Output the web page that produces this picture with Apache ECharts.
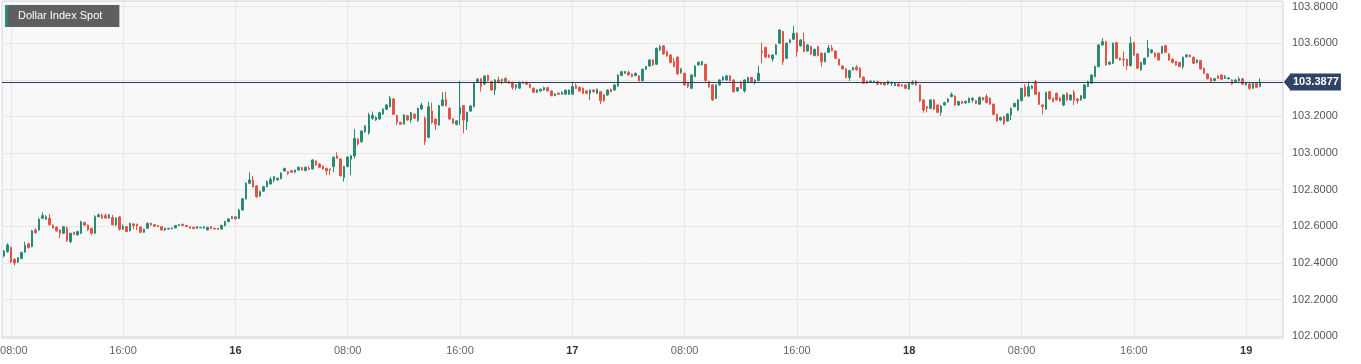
<!DOCTYPE html>
<html>
<head>
<meta charset="utf-8">
<script src="https://cdn.jsdelivr.net/npm/echarts@6/dist/echarts.min.js"></script>
<style>html,body{margin:0;padding:0;background:#fff;}#chart{width:1361px;height:364px;}</style>
</head>
<body>
<div id="chart"></div>
<script>
// ---- data: 15-minute candles, [open, close, low, high] ----
const seriesName = 'Dollar Index Spot';
const day15 = [
[102.438,102.465,102.43,102.47],[102.462,102.498,102.455,102.507],[102.484,102.405,102.40,102.49],[102.42,102.40,102.385,102.425],
[102.405,102.428,102.40,102.43],[102.424,102.458,102.42,102.46],[102.46,102.495,102.455,102.516],[102.504,102.484,102.478,102.51],
[102.489,102.575,102.485,102.58],[102.58,102.566,102.558,102.589],[102.58,102.638,102.575,102.645],[102.643,102.658,102.64,102.676],
[102.638,102.652,102.635,102.66],[102.644,102.608,102.605,102.667],[102.606,102.59,102.587,102.61],[102.595,102.575,102.57,102.6],
[102.58,102.562,102.535,102.583],[102.562,102.598,102.558,102.6],[102.59,102.522,102.515,102.6],[102.516,102.562,102.507,102.565],
[102.567,102.556,102.553,102.57],[102.553,102.571,102.55,102.575],[102.562,102.625,102.558,102.63],[102.62,102.607,102.6,102.625],
[102.607,102.58,102.575,102.61],[102.589,102.562,102.553,102.592],[102.562,102.652,102.558,102.66],[102.652,102.662,102.65,102.67],
[102.66,102.645,102.64,102.67],[102.658,102.645,102.64,102.67],[102.645,102.662,102.64,102.668],[102.648,102.608,102.605,102.662],
[102.608,102.644,102.6,102.65],[102.651,102.584,102.576,102.655],[102.584,102.598,102.58,102.61],[102.598,102.571,102.568,102.6],
[102.576,102.616,102.572,102.62],[102.613,102.604,102.584,102.615],[102.611,102.602,102.58,102.614],[102.595,102.567,102.564,102.6],
[102.567,102.584,102.565,102.587],[102.589,102.616,102.585,102.62],[102.616,102.607,102.604,102.62],[102.609,102.6,102.598,102.612],
[102.604,102.598,102.596,102.607],[102.598,102.58,102.577,102.6],[102.58,102.589,102.574,102.592],[102.585,102.589,102.583,102.591],
[102.586,102.591,102.584,102.593],[102.591,102.604,102.59,102.607],[102.604,102.609,102.602,102.612],[102.611,102.604,102.602,102.614],
[102.604,102.598,102.596,102.607],[102.598,102.589,102.587,102.6],[102.595,102.587,102.585,102.597],[102.589,102.598,102.587,102.6],
[102.592,102.594,102.589,102.597],[102.589,102.596,102.587,102.6],[102.58,102.594,102.578,102.598],[102.598,102.587,102.585,102.6],
[102.589,102.585,102.583,102.59],[102.589,102.583,102.58,102.59],[102.585,102.605,102.583,102.608],[102.603,102.625,102.6,102.63],
[102.625,102.64,102.623,102.645],[102.643,102.652,102.64,102.655]
];
const day16 = [
[102.652,102.64,102.637,102.655],[102.643,102.689,102.64,102.695],[102.689,102.75,102.685,102.755],[102.75,102.835,102.745,102.84],
[102.835,102.853,102.83,102.895],[102.853,102.816,102.81,102.875],[102.82,102.762,102.755,102.825],[102.765,102.789,102.76,102.795],
[102.792,102.816,102.788,102.82],[102.816,102.844,102.812,102.85],[102.831,102.856,102.828,102.87],[102.853,102.871,102.84,102.875],
[102.853,102.862,102.85,102.866],[102.86,102.89,102.856,102.895],[102.902,102.916,102.9,102.92],[102.898,102.889,102.88,102.9],
[102.904,102.895,102.89,102.907],[102.895,102.907,102.892,102.91],[102.907,102.922,102.905,102.926],[102.92,102.907,102.904,102.925],
[102.904,102.922,102.9,102.927],[102.916,102.911,102.908,102.93],[102.913,102.962,102.91,102.966],[102.956,102.935,102.93,102.96],
[102.94,102.922,102.918,102.945],[102.929,102.913,102.91,102.932],[102.916,102.902,102.88,102.92],[102.913,102.907,102.88,102.915],
[102.926,102.977,102.895,102.98],[102.984,102.971,102.968,103.004],[102.967,102.876,102.872,102.97],[102.866,102.926,102.844,102.93],
[102.926,102.978,102.922,102.982],[102.966,102.985,102.88,102.99],[102.984,103.08,102.97,103.13],[103.077,103.05,103.04,103.08],
[103.062,103.12,103.055,103.125],[103.117,103.148,103.11,103.152],[103.11,103.208,103.1,103.22],[103.19,103.206,103.18,103.226],
[103.18,103.195,103.175,103.2],[103.186,103.22,103.18,103.225],[103.213,103.239,103.21,103.245],[103.239,103.262,103.235,103.267],
[103.253,103.299,103.25,103.312],[103.295,103.211,103.208,103.3],[103.204,103.168,103.153,103.21],[103.168,103.157,103.153,103.17],
[103.158,103.208,103.155,103.212],[103.204,103.18,103.177,103.208],[103.18,103.22,103.166,103.224],[103.212,103.19,103.187,103.216],
[103.177,103.244,103.17,103.248],[103.24,103.262,103.236,103.275],[103.19,103.062,103.044,103.2],[103.086,103.253,103.08,103.28],
[103.23,103.166,103.16,103.275],[103.184,103.157,103.126,103.19],[103.153,103.259,103.148,103.262],[103.259,103.29,103.255,103.332],
[103.293,103.259,103.255,103.335],[103.244,103.186,103.18,103.25],[103.186,103.162,103.158,103.19],[103.157,103.175,103.15,103.18],
[103.213,103.248,103.153,103.393],[103.259,103.18,103.108,103.262],[103.171,103.222,103.126,103.226],[103.229,103.257,103.224,103.262],
[103.253,103.38,103.25,103.385],[103.39,103.402,103.385,103.41],[103.404,103.363,103.335,103.41],[103.377,103.42,103.37,103.425],
[103.423,103.395,103.39,103.428],[103.39,103.344,103.34,103.395],[103.344,103.399,103.317,103.404],[103.399,103.385,103.38,103.417],
[103.395,103.402,103.375,103.405],[103.408,103.39,103.385,103.412],[103.39,103.381,103.378,103.395],[103.386,103.359,103.345,103.39],
[103.359,103.372,103.345,103.376],[103.354,103.386,103.35,103.39],[103.386,103.381,103.378,103.39],[103.386,103.375,103.372,103.39],
[103.375,103.359,103.355,103.38],[103.354,103.332,103.328,103.358],[103.332,103.344,103.328,103.348],[103.339,103.348,103.335,103.352],
[103.344,103.357,103.34,103.362],[103.357,103.339,103.335,103.361],[103.339,103.313,103.31,103.343],[103.313,103.322,103.31,103.326],
[103.327,103.321,103.318,103.33],[103.321,103.332,103.318,103.335],[103.321,103.343,103.318,103.347],[103.321,103.343,103.318,103.347]
];
const day17 = [
[103.321,103.363,103.318,103.39],[103.368,103.353,103.35,103.38],[103.359,103.339,103.335,103.363],[103.354,103.326,103.322,103.358],
[103.339,103.326,103.322,103.343],[103.326,103.344,103.29,103.348],[103.344,103.335,103.33,103.348],[103.326,103.348,103.322,103.352],
[103.335,103.286,103.268,103.339],[103.317,103.286,103.28,103.322],[103.317,103.344,103.313,103.348],[103.348,103.335,103.33,103.352],
[103.344,103.372,103.34,103.376],[103.366,103.426,103.362,103.43],[103.423,103.444,103.42,103.448],[103.436,103.445,103.432,103.448],
[103.439,103.426,103.422,103.45],[103.43,103.417,103.413,103.434],[103.423,103.435,103.42,103.44],[103.421,103.395,103.39,103.425],
[103.395,103.457,103.39,103.461],[103.457,103.472,103.453,103.476],[103.475,103.508,103.47,103.512],[103.508,103.481,103.476,103.512],
[103.485,103.572,103.48,103.576],[103.563,103.581,103.558,103.59],[103.585,103.541,103.536,103.589],[103.554,103.53,103.525,103.558],
[103.535,103.494,103.49,103.54],[103.499,103.472,103.468,103.52],[103.523,103.432,103.428,103.528],[103.439,103.459,103.432,103.465],
[103.435,103.372,103.368,103.44],[103.384,103.363,103.355,103.388],[103.353,103.426,103.35,103.43],[103.417,103.475,103.414,103.478],
[103.481,103.495,103.478,103.5],[103.481,103.499,103.478,103.503],[103.484,103.395,103.39,103.488],[103.39,103.363,103.355,103.395],
[103.372,103.29,103.284,103.375],[103.299,103.372,103.295,103.375],[103.372,103.399,103.368,103.402],[103.399,103.414,103.395,103.42],
[103.399,103.421,103.395,103.428],[103.421,103.395,103.39,103.425],[103.399,103.335,103.33,103.403],[103.339,103.357,103.335,103.36],
[103.381,103.353,103.35,103.395],[103.339,103.399,103.33,103.403],[103.39,103.412,103.386,103.416],[103.412,103.39,103.386,103.416],
[103.39,103.399,103.375,103.403],[103.395,103.435,103.392,103.475],[103.557,103.55,103.49,103.603],[103.577,103.523,103.52,103.58],
[103.535,103.523,103.519,103.54],[103.514,103.535,103.499,103.54],[103.539,103.59,103.535,103.594],[103.599,103.672,103.595,103.676],
[103.663,103.499,103.481,103.667],[103.517,103.599,103.513,103.603],[103.603,103.617,103.6,103.622],[103.621,103.654,103.617,103.694],
[103.654,103.554,103.526,103.658],[103.585,103.617,103.58,103.622],[103.608,103.554,103.55,103.657],[103.557,103.59,103.553,103.594],
[103.581,103.539,103.535,103.585],[103.532,103.566,103.528,103.57],[103.581,103.532,103.528,103.585],[103.545,103.499,103.472,103.549],
[103.499,103.545,103.495,103.549],[103.55,103.574,103.546,103.59],[103.574,103.559,103.555,103.59],[103.557,103.517,103.513,103.561],
[103.512,103.481,103.477,103.516],[103.475,103.459,103.455,103.479],[103.459,103.412,103.408,103.463],[103.412,103.45,103.393,103.454],
[103.454,103.466,103.45,103.47],[103.468,103.454,103.45,103.481],[103.463,103.414,103.41,103.467],[103.414,103.381,103.377,103.418],
[103.392,103.381,103.377,103.395],[103.386,103.392,103.383,103.397],[103.386,103.392,103.383,103.395],[103.39,103.376,103.372,103.394],
[103.384,103.376,103.372,103.388],[103.384,103.372,103.368,103.388],[103.377,103.39,103.372,103.395],[103.381,103.386,103.366,103.39],
[103.368,103.381,103.365,103.386],[103.377,103.366,103.363,103.38],[103.372,103.366,103.363,103.375],[103.372,103.353,103.35,103.375]
];
const day18 = [
[103.35,103.381,103.346,103.386],[103.377,103.388,103.374,103.397],[103.393,103.372,103.368,103.397],[103.372,103.284,103.28,103.375],
[103.29,103.235,103.22,103.294],[103.253,103.244,103.222,103.256],[103.244,103.29,103.24,103.294],[103.29,103.239,103.235,103.294],
[103.262,103.222,103.218,103.265],[103.222,103.257,103.204,103.262],[103.262,103.275,103.258,103.28],[103.279,103.295,103.275,103.3],
[103.308,103.32,103.304,103.33],[103.311,103.262,103.258,103.315],[103.262,103.281,103.258,103.285],[103.281,103.271,103.268,103.285],
[103.273,103.282,103.27,103.286],[103.276,103.299,103.272,103.303],[103.29,103.299,103.275,103.303],[103.286,103.271,103.267,103.29],
[103.267,103.304,103.262,103.308],[103.302,103.29,103.286,103.306],[103.308,103.275,103.271,103.322],[103.299,103.267,103.262,103.303],
[103.267,103.211,103.206,103.27],[103.211,103.175,103.171,103.215],[103.18,103.194,103.176,103.198],[103.199,103.162,103.153,103.203],
[103.175,103.213,103.171,103.217],[103.208,103.244,103.18,103.248],[103.253,103.271,103.249,103.275],[103.235,103.29,103.23,103.294],
[103.286,103.353,103.282,103.357],[103.362,103.311,103.306,103.377],[103.311,103.362,103.306,103.39],[103.353,103.366,103.349,103.37],
[103.39,103.321,103.317,103.399],[103.331,103.266,103.262,103.335],[103.262,103.253,103.211,103.266],[103.239,103.331,103.235,103.335],
[103.335,103.295,103.29,103.339],[103.299,103.281,103.277,103.303],[103.326,103.29,103.286,103.33],[103.30,103.285,103.28,103.305],
[103.262,103.317,103.256,103.32],[103.326,103.29,103.285,103.33],[103.29,103.317,103.286,103.32],[103.33,103.29,103.262,103.344],
[103.295,103.285,103.27,103.3],[103.29,103.313,103.286,103.317],[103.299,103.372,103.295,103.376],[103.363,103.39,103.36,103.395],
[103.381,103.426,103.378,103.43],[103.417,103.472,103.413,103.476],[103.472,103.59,103.468,103.594],[103.59,103.608,103.586,103.627],
[103.608,103.481,103.477,103.612],[103.485,103.496,103.481,103.5],[103.49,103.599,103.486,103.603],[103.603,103.517,103.513,103.607],
[103.517,103.508,103.504,103.521],[103.512,103.508,103.472,103.554],[103.512,103.476,103.454,103.516],[103.477,103.599,103.473,103.636],
[103.603,103.535,103.531,103.607],[103.541,103.463,103.459,103.545],[103.454,103.494,103.45,103.498],[103.485,103.517,103.481,103.521],
[103.526,103.572,103.522,103.617],[103.548,103.563,103.544,103.567],[103.545,103.526,103.522,103.549],[103.545,103.508,103.504,103.549],
[103.545,103.581,103.541,103.585],[103.586,103.55,103.546,103.59],[103.541,103.508,103.504,103.545],[103.512,103.494,103.49,103.516],
[103.499,103.481,103.477,103.503],[103.494,103.472,103.468,103.498],[103.472,103.523,103.459,103.527],[103.526,103.535,103.522,103.539],
[103.535,103.526,103.522,103.539],[103.523,103.49,103.486,103.527],[103.494,103.508,103.49,103.512],[103.505,103.459,103.455,103.509],
[103.463,103.435,103.431,103.467],[103.432,103.405,103.401,103.436],[103.408,103.39,103.386,103.412],[103.395,103.406,103.392,103.41],
[103.421,103.408,103.404,103.425],[103.426,103.403,103.399,103.43],[103.408,103.417,103.404,103.426],[103.405,103.41,103.401,103.414],
[103.399,103.377,103.373,103.403],[103.39,103.399,103.386,103.403],[103.394,103.405,103.39,103.417],[103.405,103.376,103.372,103.41]
];
const day19 = [
[103.372,103.385,103.368,103.389],[103.377,103.353,103.344,103.381],[103.353,103.381,103.35,103.385],[103.381,103.359,103.355,103.385],
[103.363,103.3877,103.36,103.408]
];
const lastPrice = 103.3877;

// time slots (category axis), 15-minute steps from 15th 07:30
const startDay = 15, startMinutes = 7 * 60 + 30, slotMinutes = 15, slotCount = 365;
const tickTimes = ['00:00', '08:00', '16:00'];
const yTickStep = 0.2;

const categories = [];
for (let i = 0; i < slotCount; i++) {
  const t = startMinutes + i * slotMinutes;
  const d = startDay + Math.floor(t / 1440);
  const m = t % 1440;
  const hh = String(Math.floor(m / 60)).padStart(2, '0');
  const mm = String(m % 60).padStart(2, '0');
  categories.push(d + ' ' + hh + ':' + mm);
}
const candles = [].concat(day15, day16, day17, day18, day19);
const lastCategory = categories[categories.length - 1];

const FONT = '"Liberation Sans", Arial, Helvetica, sans-serif';
const UP = '#2b8a72', DOWN = '#df5547';
const isTick = (idx, val) => tickTimes.indexOf(val.split(' ')[1]) >= 0;
const firstTick = categories.find((v, i) => isTick(i, v));

const chart = echarts.init(document.getElementById('chart'), null, {renderer: 'canvas'});
chart.setOption({
  animation: false,
  backgroundColor: '#ffffff',
  textStyle: {fontFamily: FONT},
  legend: {
    left: 5, top: 5,
    padding: [0, 17, 0, 0],
    backgroundColor: '#5f5f5f',
    itemWidth: 3, itemHeight: 22,
    selectedMode: false,
    data: [{name: seriesName, icon: 'rect', itemStyle: {color: UP, borderWidth: 0}}],
    textStyle: {color: '#ffffff', fontSize: 11, fontFamily: FONT, padding: [0, 0, 0, 5]}
  },
  grid: {
    left: 2, right: 78, top: 1, bottom: 26,
    outerBoundsMode: 'none',
    containLabel: false,
    show: true, backgroundColor: '#f8f8f8', borderColor: '#cdd3e8', borderWidth: 1
  },
  xAxis: {
    type: 'category',
    data: categories,
    boundaryGap: true,
    axisLine: {show: false},
    axisTick: {show: false},
    axisLabel: {
      interval: isTick,
      margin: 7,
      formatter: function (val) {
        const p = val.split(' ');
        if (p[1] === '00:00') return '{d|' + p[0] + '}';
        return (val === firstTick ? '{f|' : '{t|') + p[1] + '}';
      },
      rich: {
        d: {fontSize: 11, fontWeight: 'bold', color: '#333333', fontFamily: FONT},
        t: {fontSize: 11, color: '#666666', fontFamily: FONT},
        f: {fontSize: 11, color: '#666666', fontFamily: FONT, padding: [0, 0, 0, 6]}
      }
    },
    splitLine: {show: true, interval: isTick, alignWithLabel: true, lineStyle: {color: '#e6e6e6', width: 1}}
  },
  yAxis: {
    type: 'value',
    position: 'right',
    min: 101.99, max: 103.83,
    splitNumber: 9, minInterval: yTickStep, maxInterval: yTickStep,
    axisLine: {show: false},
    axisTick: {show: false},
    splitLine: {lineStyle: {color: '#e6e6e6', width: 1}},
    axisLabel: {
      margin: 9, color: '#555555', fontSize: 11, fontFamily: FONT,
      formatter: function (v) {
        const k = v / yTickStep;
        if (Math.abs(k - Math.round(k)) > 1e-6) return '';
        return v.toFixed(4);
      }
    }
  },
  series: [{
    name: seriesName,
    type: 'candlestick',
    data: candles,
    barWidth: 2,
    itemStyle: {color: UP, color0: DOWN, borderColor: UP, borderColor0: DOWN, borderWidth: 1},
    emphasis: {disabled: true},
    markLine: {
      silent: true,
      precision: 4,
      symbol: ['none', 'none'],
      lineStyle: {color: '#2d3e5c', width: 1, type: 'solid'},
      label: {
        show: true, position: 'end', distance: 7,
        formatter: function () { return lastPrice.toFixed(4); },
        color: '#ffffff', fontWeight: 'bold', fontSize: 11, fontFamily: FONT,
        backgroundColor: '#2e4366', padding: [3, 2, 3, 3]
      },
      data: [{yAxis: lastPrice}]
    },
    markPoint: {
      silent: true,
      symbol: 'triangle',
      symbolSize: [17, 7],
      symbolRotate: 90,
      symbolOffset: [6, 0],
      label: {show: false},
      itemStyle: {color: '#2e4366'},
      data: [{coord: [lastCategory, lastPrice]}]
    }
  }]
});
</script>
</body>
</html>
